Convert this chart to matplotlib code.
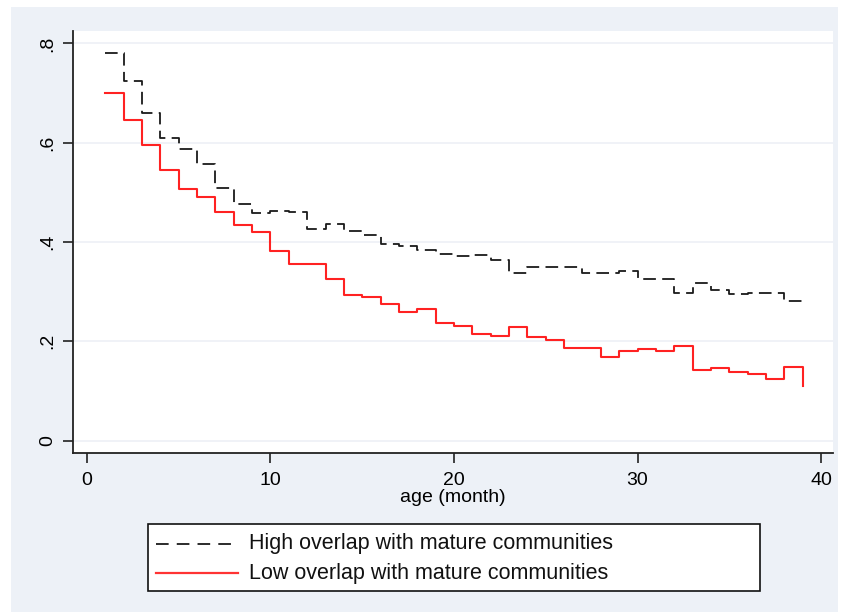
import matplotlib
matplotlib.use("Agg")
import matplotlib.pyplot as plt
from matplotlib.patches import Rectangle
from matplotlib.lines import Line2D

months = list(range(1, 40))
high_overlap = [0.780, 0.724, 0.659, 0.609, 0.587, 0.557, 0.508, 0.477, 0.459, 0.462,
                0.460, 0.426, 0.437, 0.422, 0.414, 0.395, 0.392, 0.384, 0.375, 0.371,
                0.374, 0.364, 0.338, 0.349, 0.349, 0.349, 0.338, 0.338, 0.342, 0.325,
                0.325, 0.297, 0.317, 0.303, 0.295, 0.297, 0.297, 0.282, 0.282]
low_overlap = [0.701, 0.645, 0.595, 0.545, 0.507, 0.490, 0.461, 0.434, 0.420, 0.381,
               0.355, 0.355, 0.325, 0.293, 0.289, 0.275, 0.258, 0.265, 0.236, 0.230,
               0.215, 0.211, 0.228, 0.209, 0.203, 0.187, 0.187, 0.169, 0.181, 0.185,
               0.181, 0.191, 0.142, 0.146, 0.138, 0.134, 0.124, 0.148, 0.110]
series_labels = ["High overlap with mature communities", "Low overlap with mature communities"]
x_ticks = [0, 10, 20, 30, 40]
y_ticks = [0, 0.2, 0.4, 0.6, 0.8]
y_tick_labels = ["0", ".2", ".4", ".6", ".8"]
x_label = "age (month)"

plt.rcParams["font.family"] = ["Liberation Sans", "DejaVu Sans"]

W, H = 844, 615
fig = plt.figure(figsize=(W / 100, H / 100), dpi=100, facecolor="white")
bg = "#EDF1F7"
fig.patches.append(Rectangle((11 / W, 1 - 612 / H), (838 - 11) / W, (612 - 7) / H,
                             transform=fig.transFigure, facecolor=bg, edgecolor="none", zorder=-10))

ax = fig.add_axes([73 / W, 1 - 453 / H, (833 - 73) / W, (453 - 31) / H])
ax.set_facecolor("white")
ax.set_xlim(-0.76, 40.65)
ax.set_ylim(-0.025, 0.825)

for yv in y_ticks:
    ax.axhline(yv, color="#EDF0F6", lw=1.2, zorder=0)

ax.step(months, high_overlap, where="post", color="#1a1a1a", lw=1.3,
        linestyle=(0, (7, 3.5)), zorder=3)
ax.step(months, low_overlap, where="post", color="#FF2222", lw=1.5, zorder=3)

for s in ["top", "right"]:
    ax.spines[s].set_visible(False)
for s in ["left", "bottom"]:
    ax.spines[s].set_color("#222222")
    ax.spines[s].set_linewidth(1.3)

ax.set_xticks(x_ticks)
ax.set_xticklabels([str(v) for v in x_ticks], fontsize=14)
ax.set_yticks(y_ticks)
ax.set_yticklabels(y_tick_labels, fontsize=14, rotation=90, va="center")
ax.tick_params(axis="x", direction="out", length=7, width=1.2, color="#222222", pad=7)
ax.tick_params(axis="y", direction="out", length=7, width=1.2, color="#222222", pad=5)
ax.set_xlabel(x_label, fontsize=14, labelpad=0)

# Legend drawn as a fixed-size box like the original
def fx(px):
    return px / W

def fy(py):
    return 1 - py / H

fig.patches.append(Rectangle((fx(148), fy(591)), fx(760) - fx(148), fy(524) - fy(591),
                             transform=fig.transFigure, facecolor="white",
                             edgecolor="#111111", lw=1.2, zorder=5))
styles = [dict(color="#1a1a1a", lw=1.3, linestyle=(0, (7, 4.5))),
          dict(color="#FF3333", lw=1.6, linestyle="-")]
rows_y = [544, 573]
for lab, st, ry in zip(series_labels, styles, rows_y):
    fig.add_artist(Line2D([fx(156), fx(238)], [fy(ry), fy(ry)], transform=fig.transFigure,
                          zorder=6, **st))
    fig.text(fx(249), fy(ry), lab, fontsize=15.5, va="center", ha="left", color="#111111",
             zorder=6)

fig.savefig("out.png", dpi=100, facecolor="white")
